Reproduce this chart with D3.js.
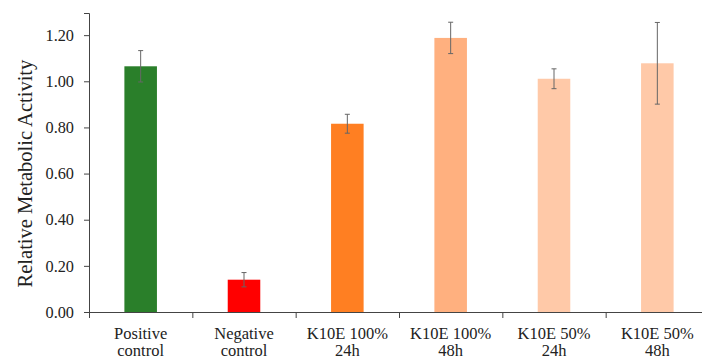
<!DOCTYPE html>
<html>
<head>
<meta charset="utf-8">
<script src="https://cdn.jsdelivr.net/npm/d3@7"></script>
<style>
  body { margin: 0; background: #fff; }
</style>
</head>
<body>
<div id="chart"></div>
<script>
// --------- DATA ---------
const categories = [["Positive", "control"], ["Negative", "control"], ["K10E 100%", "24h"],
                    ["K10E 100%", "48h"], ["K10E 50%", "24h"], ["K10E 50%", "48h"]];
const values = [1.065, 0.140, 0.816, 1.188, 1.011, 1.078];
const errors = [0.068, 0.031, 0.041, 0.068, 0.043, 0.177];
const colors = ["#2a7f2a", "#ff0000", "#ff7f22", "#ffb07f", "#ffc9a8", "#ffc9a8"];
const yTicks = [0, 0.2, 0.4, 0.6, 0.8, 1.0, 1.2];

const FONT = "'Liberation Serif', 'Times New Roman', serif";

// --------- CHART ---------
let margin = {top: 13, right: -7, bottom: 46, left: 89},
    width = 702 - margin.left - margin.right,
    height = 358 - margin.top - margin.bottom;

let svg = d3.select("#chart")
    .append("svg")
    .attr("width", 702)
    .attr("height", 358);

let graph = svg.append("g")
    .attr("transform", "translate(" + margin.left + "," + margin.top + ")");

let yScale = d3.scaleLinear()
    .domain([0, 1.296])
    .range([height, 0]);

let xScale = d3.scaleBand()
    .domain(d3.range(categories.length))
    .range([0, width])
    .paddingInner(0.685)
    .paddingOuter(0.3425);

// bars
graph.selectAll(".bar")
    .data(values)
    .enter().append("rect")
    .attr("x", (d, i) => xScale(i))
    .attr("y", d => yScale(d))
    .attr("width", xScale.bandwidth())
    .attr("height", d => height - yScale(d))
    .attr("fill", (d, i) => colors[i]);

// error bars
let err = graph.selectAll(".err")
    .data(values)
    .enter().append("g")
    .attr("stroke", "#666")
    .attr("stroke-width", 1);
err.append("line")
    .attr("x1", (d, i) => xScale(i) + xScale.bandwidth() / 2)
    .attr("x2", (d, i) => xScale(i) + xScale.bandwidth() / 2)
    .attr("y1", (d, i) => yScale(d + errors[i]))
    .attr("y2", (d, i) => yScale(d - errors[i]));
[1, -1].forEach(s => {
    err.append("line")
        .attr("x1", (d, i) => xScale(i) + xScale.bandwidth() / 2 - 2.5)
        .attr("x2", (d, i) => xScale(i) + xScale.bandwidth() / 2 + 2.5)
        .attr("y1", (d, i) => yScale(d + s * errors[i]))
        .attr("y2", (d, i) => yScale(d + s * errors[i]));
});

// y axis
let yAxis = graph.append("g")
    .call(d3.axisLeft(yScale).tickValues(yTicks).tickFormat(d3.format(".2f")).tickSizeOuter(0).tickSize(5));
yAxis.attr("font-family", null).attr("font-size", null);
yAxis.select(".domain").attr("stroke", "#444");
yAxis.selectAll(".tick line").attr("stroke", "#444");
yAxis.selectAll(".tick text")
    .attr("x", -15)
    .style("font-size", "16.3px")
    .style("font-family", FONT)
    .attr("fill", "#222");

// x axis: line + ticks between categories
let step = xScale.step();
graph.append("line")
    .attr("x1", 0).attr("x2", width)
    .attr("y1", height + 0.5).attr("y2", height + 0.5)
    .attr("stroke", "#444");
graph.selectAll(".xtick")
    .data(d3.range(categories.length + 1))
    .enter().append("line")
    .attr("x1", d => d * step + 0.5).attr("x2", d => d * step + 0.5)
    .attr("y1", height).attr("y2", height + 6)
    .attr("stroke", "#444");

// category labels
let labels = graph.selectAll(".xlabel")
    .data(categories)
    .enter().append("text")
    .attr("text-anchor", "middle")
    .attr("fill", "#222")
    .style("font-family", FONT)
    .style("font-size", "16.5px")
    .attr("transform", (d, i) => "translate(" + (xScale(i) + xScale.bandwidth() / 2) + "," + (height + 27) + ")");
labels.append("tspan").attr("x", 0).attr("dy", 0).text(d => d[0]);
labels.append("tspan").attr("x", 0).attr("dy", 17).text(d => d[1]);

// y title
svg.append("text")
    .attr("text-anchor", "middle")
    .attr("fill", "#222")
    .style("font-family", FONT)
    .attr("transform", "translate(32," + (margin.top + yScale(0.6)) + ") rotate(-90)")
    .style("font-size", "20.5px")
    .text("Relative Metabolic Activity");
</script>
</body>
</html>
